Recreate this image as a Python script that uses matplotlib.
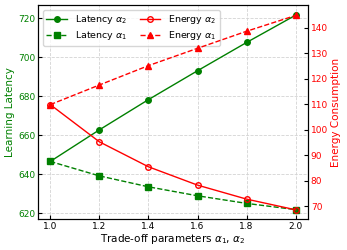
import numpy as np
import matplotlib.pyplot as plt

# trade-off parameter values
alpha = [1.0, 1.2, 1.4, 1.6, 1.8, 2.0]

# learning latency (left axis)
latency_a2 = [646.5, 662.7, 678.2, 693.0, 707.5, 721.5]
latency_a1 = [646.5, 639.1, 633.5, 628.9, 625.0, 621.8]

# energy consumption (right axis)
energy_a2 = [109.8, 95.2, 85.4, 78.2, 72.7, 68.5]
energy_a1 = [109.8, 117.5, 125.1, 131.9, 138.6, 144.8]

fig = plt.figure(figsize=(3.47, 2.5), dpi=100)
ax = fig.add_axes([0.1095, 0.124, 0.778, 0.856])
ax2 = ax.twinx()

ms = 4
l1, = ax.plot(alpha, latency_a2, color='green', marker='o', markersize=ms, lw=1.0, label=r'Latency $\alpha_2$')
l2, = ax.plot(alpha, latency_a1, color='green', marker='s', markersize=ms, lw=1.0, ls='--', label=r'Latency $\alpha_1$')
l3, = ax2.plot(alpha, energy_a2, color='red', marker='o', markersize=ms, lw=1.0, mfc='none', label=r'Energy $\alpha_2$')
l4, = ax2.plot(alpha, energy_a1, color='red', marker='^', markersize=ms, lw=1.0, ls='--', label=r'Energy $\alpha_1$')

ax.set_xlim(0.95, 2.05)
ax.set_ylim(617, 726.7)
ax2.set_ylim(64.9, 148.9)
ax.set_xticks([1.0, 1.2, 1.4, 1.6, 1.8, 2.0])
ax.set_yticks([620, 640, 660, 680, 700, 720])
ax2.set_yticks([70, 80, 90, 100, 110, 120, 130, 140])

ax.grid(True, ls='--', color='lightgrey', lw=0.6)
ax.tick_params(direction='in', labelsize=6.5, pad=2, length=3)
ax.tick_params(axis='y', labelcolor='green')
ax2.tick_params(direction='in', labelsize=6.5, labelcolor='red', pad=2, length=3)

ax.set_xlabel(r'Trade-off parameters $\alpha_1$, $\alpha_2$', fontsize=7.5, labelpad=1)
ax.set_ylabel('Learning Latency', color='green', fontsize=7.5, labelpad=2)
ax2.set_ylabel('Energy Consumption', color='red', fontsize=7.5, labelpad=2)

ax.legend(handles=[l1, l2, l3, l4], ncol=2, loc='upper left', fontsize=6.8,
          handlelength=2.2, columnspacing=1.3, borderpad=0.4, labelspacing=0.3)

fig.savefig('out.png', dpi=100)
